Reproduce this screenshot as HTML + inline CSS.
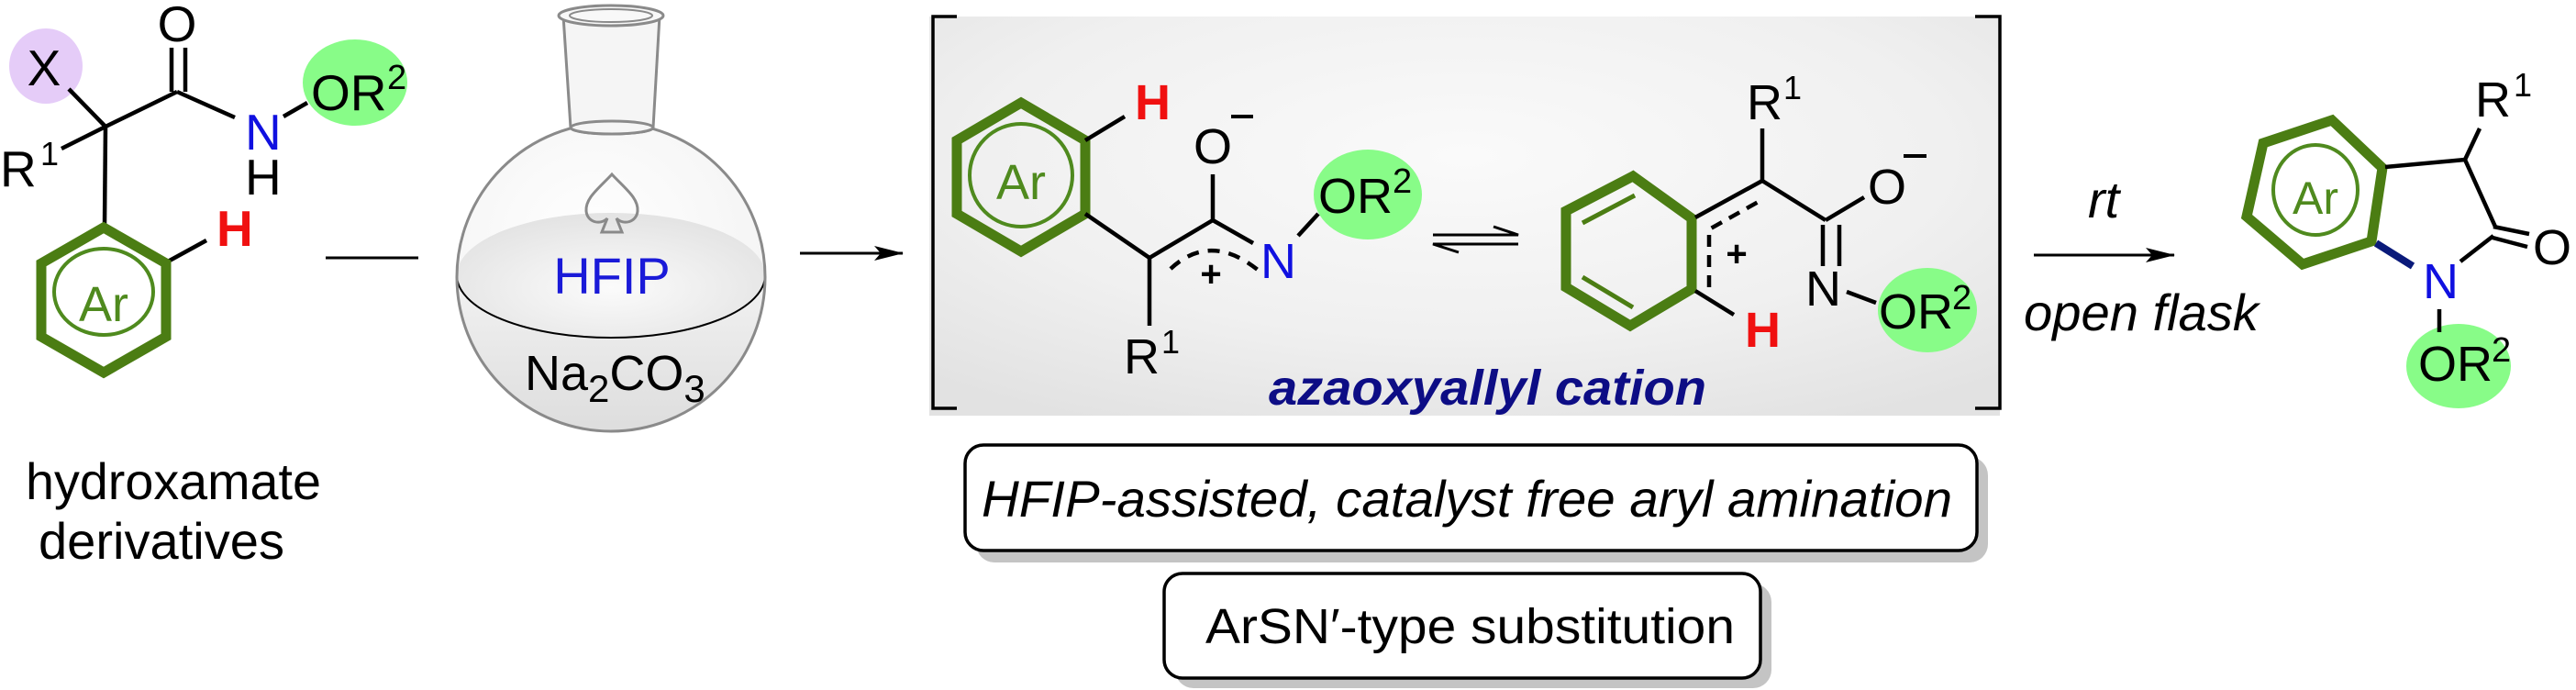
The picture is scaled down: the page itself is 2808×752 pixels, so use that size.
<!DOCTYPE html>
<html><head><meta charset="utf-8"><style>
html,body{margin:0;padding:0;background:#fff;}
svg{display:block;}
text{font-family:"Liberation Sans",Arial,sans-serif;}
</style></head><body>
<svg width="2808" height="752" viewBox="0 0 2808 752" xmlns="http://www.w3.org/2000/svg">
<defs>
<radialGradient id="bg" cx="0.5" cy="0.35" r="0.75">
<stop offset="0" stop-color="#fafafa"/><stop offset="0.6" stop-color="#f0f0f0"/><stop offset="1" stop-color="#e2e2e2"/>
</radialGradient>
<radialGradient id="sph" cx="0.45" cy="0.4" r="0.6">
<stop offset="0" stop-color="#ffffff"/><stop offset="1" stop-color="#f4f4f4"/>
</radialGradient>
<linearGradient id="liq" x1="0" y1="0" x2="0" y2="1">
<stop offset="0" stop-color="#f2f2f2"/><stop offset="1" stop-color="#dcdcdc"/>
</linearGradient>
<radialGradient id="surf" cx="0.5" cy="0.6" r="0.6">
<stop offset="0" stop-color="#fbfbfb"/><stop offset="1" stop-color="#e3e3e3"/>
</radialGradient>
<clipPath id="sc"><circle cx="666" cy="302" r="168"/></clipPath>
<marker id="ah" markerWidth="32" markerHeight="16" refX="31" refY="8" orient="auto" markerUnits="userSpaceOnUse">
<path d="M0,0 L32,8 L0,16 L7,8 Z" fill="#000"/></marker>
</defs>

<!-- ============ LEFT MOLECULE ============ -->
<ellipse cx="50" cy="72" rx="40" ry="41" fill="#e5ccf8"/>
<ellipse cx="387" cy="90" rx="57" ry="47" fill="#88fc88"/>
<g stroke="#000" stroke-width="4.5" fill="none" stroke-linecap="butt">
<line x1="75" y1="97" x2="115" y2="138"/>
<line x1="67" y1="162" x2="115" y2="138"/>
<line x1="115" y1="138" x2="193" y2="100"/>
<line x1="187" y1="52" x2="187" y2="100"/>
<line x1="202" y1="52" x2="202" y2="100"/>
<line x1="193" y1="100" x2="256" y2="128"/>
<line x1="309" y1="127" x2="335" y2="112"/>
<line x1="115" y1="138" x2="114" y2="246"/>
<line x1="183" y1="285" x2="225" y2="262"/>
<line x1="355" y1="281" x2="456" y2="281" stroke-width="3"/>
</g>
<polygon points="113,248 181,287 181,367 113,406 45,367 45,287" fill="none" stroke="#4b7d13" stroke-width="11"/>
<ellipse cx="113" cy="318" rx="54" ry="47" fill="none" stroke="#4f8a1e" stroke-width="4"/>
<text x="113" y="350" font-size="54" fill="#4f8a1e" text-anchor="middle">Ar</text>
<text x="48" y="93" font-size="55" text-anchor="middle">X</text>
<text x="193" y="45" font-size="55" text-anchor="middle">O</text>
<text x="0" y="203" font-size="55">R</text>
<text x="44" y="180" font-size="36">1</text>
<text x="267" y="163" font-size="55" fill="#1010e0">N</text>
<text x="267" y="212" font-size="55">H</text>
<text x="339" y="120" font-size="55">OR</text>
<text x="422" y="97" font-size="38">2</text>
<text x="236" y="268" font-size="55" font-weight="bold" fill="#f01010">H</text>
<text x="28" y="544" font-size="56" textLength="322" lengthAdjust="spacingAndGlyphs">hydroxamate</text>
<text x="42" y="609" font-size="56" textLength="268" lengthAdjust="spacingAndGlyphs">derivatives</text>

<!-- ============ FLASK ============ -->
<circle cx="666" cy="302" r="168" fill="url(#sph)"/>
<g clip-path="url(#sc)">
<path d="M490,302 L850,302 L850,480 L490,480 Z" fill="url(#liq)"/>
<ellipse cx="666" cy="300" rx="168" ry="68" fill="url(#surf)"/>
<path d="M498,300 A168,68 0 0 0 834,300" fill="none" stroke="#000" stroke-width="2"/>
</g>
<circle cx="666" cy="302" r="168" fill="none" stroke="#8a8a8a" stroke-width="3"/>
<path d="M614,17 L622,139 A45,7 0 0 0 712,139 L719,17" fill="#f5f5f5" stroke="#8a8a8a" stroke-width="3"/>
<ellipse cx="667" cy="139" rx="45" ry="7" fill="#f5f5f5" stroke="#8a8a8a" stroke-width="3"/>
<ellipse cx="666" cy="17" rx="57" ry="11" fill="#f8f8f8" stroke="#8a8a8a" stroke-width="3"/>
<ellipse cx="666" cy="17" rx="45" ry="7" fill="none" stroke="#8a8a8a" stroke-width="2"/>
<path d="M667,190 C652,206 638,216 639,230 C640,242 654,246 662,238 L656,253 L678,253 L672,238 C680,246 694,242 695,230 C696,216 682,206 667,190 Z" fill="none" stroke="#8a8a8a" stroke-width="3"/>
<text x="667" y="320" font-size="56" fill="#1a1ad8" text-anchor="middle">HFIP</text>
<text x="572" y="425" font-size="54">Na<tspan font-size="42" dy="13">2</tspan><tspan dy="-13">CO</tspan><tspan font-size="42" dy="13">3</tspan></text>

<line x1="872" y1="276" x2="984" y2="276" stroke="#000" stroke-width="3" marker-end="url(#ah)"/>

<!-- ============ BRACKET BOX ============ -->
<rect x="1013" y="18" width="1167" height="435" fill="url(#bg)"/>
<path d="M1043,18 L1017,18 L1017,445 L1043,445" fill="none" stroke="#000" stroke-width="3.5"/>
<path d="M2153,18 L2180,18 L2180,445 L2153,445" fill="none" stroke="#000" stroke-width="3.5"/>

<!-- intermediate 1 -->
<ellipse cx="1491" cy="212" rx="59" ry="49" fill="#88fc88"/>
<polygon points="1113,112 1183,153 1183,233 1113,274 1043,233 1043,153" fill="none" stroke="#4b7d13" stroke-width="11"/>
<circle cx="1113" cy="191" r="56" fill="none" stroke="#4f8a1e" stroke-width="4"/>
<text x="1113" y="217" font-size="54" fill="#4f8a1e" text-anchor="middle">Ar</text>
<g stroke="#000" stroke-width="4.5" fill="none">
<line x1="1183" y1="153" x2="1226" y2="127"/>
<line x1="1183" y1="233" x2="1253" y2="281"/>
<line x1="1253" y1="281" x2="1253" y2="355"/>
<line x1="1253" y1="281" x2="1322" y2="240"/>
<line x1="1322" y1="240" x2="1322" y2="190"/>
<line x1="1322" y1="240" x2="1366" y2="265"/>
<line x1="1415" y1="257" x2="1437" y2="233"/>
<path d="M1276,293 Q1322,250 1378,300" stroke-dasharray="13,10"/>
</g>
<text x="1237" y="130" font-size="54" font-weight="bold" fill="#f01010">H</text>
<text x="1322" y="178" font-size="54" text-anchor="middle">O</text>
<line x1="1342" y1="127" x2="1366" y2="127" stroke="#000" stroke-width="4"/>
<text x="1320" y="312" font-size="40" text-anchor="middle" font-weight="bold">+</text>
<text x="1374" y="303" font-size="54" fill="#1010e0">N</text>
<text x="1437" y="232" font-size="54">OR</text>
<text x="1518" y="210" font-size="38">2</text>
<text x="1225" y="407" font-size="54">R</text>
<text x="1266" y="385" font-size="36">1</text>

<!-- equilibrium -->
<g stroke="#000" stroke-width="3" fill="none">
<path d="M1562,256 L1655,256 L1628,247"/>
<path d="M1655,266 L1562,266 L1590,275"/>
</g>

<!-- intermediate 2 -->
<ellipse cx="2101" cy="338" rx="54" ry="46" fill="#88fc88"/>
<polygon points="1780,192 1844,238 1844,315 1777,355 1707,313 1707,230" fill="none" stroke="#4b7d13" stroke-width="11"/>
<g stroke="#4b7d13" stroke-width="5">
<line x1="1725" y1="243" x2="1782" y2="213"/>
<line x1="1725" y1="302" x2="1780" y2="335"/>
</g>
<g stroke="#000" stroke-width="4.5" fill="none">
<line x1="1848" y1="237" x2="1921" y2="197"/>
<path d="M1863,313 L1863,250 L1922,217" stroke-dasharray="13,9"/>
<line x1="1921" y1="197" x2="1921" y2="140"/>
<line x1="1921" y1="197" x2="1990" y2="240"/>
<line x1="1990" y1="240" x2="2032" y2="215"/>
<line x1="1987" y1="245" x2="1987" y2="290"/>
<line x1="2005" y1="245" x2="2005" y2="290"/>
<line x1="2013" y1="318" x2="2045" y2="330"/>
<line x1="1848" y1="317" x2="1890" y2="343"/>
</g>
<text x="1893" y="290" font-size="40" text-anchor="middle" font-weight="bold">+</text>
<text x="1904" y="130" font-size="54">R</text>
<text x="1944" y="108" font-size="36">1</text>
<text x="2036" y="222" font-size="54">O</text>
<line x1="2075" y1="170" x2="2100" y2="170" stroke="#000" stroke-width="4"/>
<text x="1968" y="333" font-size="54">N</text>
<text x="2048" y="358" font-size="54">OR</text>
<text x="2128" y="337" font-size="38">2</text>
<text x="1902" y="378" font-size="54" font-weight="bold" fill="#f01010">H</text>
<text x="1383" y="441" font-size="54" font-weight="bold" font-style="italic" fill="#0d0d85" textLength="477" lengthAdjust="spacingAndGlyphs">azaoxyallyl cation</text>

<!-- ============ ARROW 2 ============ -->
<line x1="2217" y1="278" x2="2370" y2="278" stroke="#000" stroke-width="3" marker-end="url(#ah)"/>
<text x="2276" y="237" font-size="56" font-style="italic">rt</text>
<text x="2206" y="360" font-size="56" font-style="italic" textLength="256" lengthAdjust="spacingAndGlyphs">open flask</text>

<!-- ============ PRODUCT ============ -->
<ellipse cx="2680" cy="399" rx="57" ry="46" fill="#88fc88"/>
<polygon points="2467,156 2542,131 2597,183 2585,263 2510,288 2449,236" fill="none" stroke="#4b7d13" stroke-width="11"/>
<ellipse cx="2524" cy="207" rx="46" ry="49" fill="none" stroke="#4f8a1e" stroke-width="4"/>
<text x="2524" y="233" font-size="50" fill="#4f8a1e" text-anchor="middle">Ar</text>
<g stroke="#000" stroke-width="4.5" fill="none">
<line x1="2600" y1="182" x2="2687" y2="174"/>
<line x1="2687" y1="174" x2="2703" y2="140"/>
<line x1="2687" y1="174" x2="2720" y2="247"/>
<line x1="2718" y1="247" x2="2757" y2="255"/>
<line x1="2717" y1="259" x2="2755" y2="269"/>
<line x1="2718" y1="257" x2="2682" y2="285"/>
<line x1="2659" y1="337" x2="2659" y2="362"/>
</g>
<line x1="2590" y1="265" x2="2630" y2="290" stroke="#0a1a7a" stroke-width="8"/>
<text x="2698" y="127" font-size="54">R</text>
<text x="2740" y="105" font-size="36">1</text>
<text x="2761" y="288" font-size="54">O</text>
<text x="2641" y="325" font-size="54" fill="#1010e0">N</text>
<text x="2636" y="415" font-size="54">OR</text>
<text x="2716" y="394" font-size="38">2</text>

<!-- ============ BOXES ============ -->
<rect x="1064" y="498" width="1103" height="115" rx="20" fill="#c4c4c4"/>
<rect x="1052" y="485" width="1103" height="115" rx="20" fill="#fff" stroke="#000" stroke-width="3.5"/>
<text x="1070" y="563" font-size="56" font-style="italic" textLength="1058" lengthAdjust="spacingAndGlyphs">HFIP-assisted, catalyst free aryl amination</text>
<rect x="1281" y="636" width="650" height="114" rx="20" fill="#c4c4c4"/>
<rect x="1269" y="625" width="650" height="114" rx="20" fill="#fff" stroke="#000" stroke-width="3.5"/>
<text x="1314" y="701" font-size="54" textLength="577" lengthAdjust="spacingAndGlyphs">ArSN′-type substitution</text>
</svg>
</body></html>
